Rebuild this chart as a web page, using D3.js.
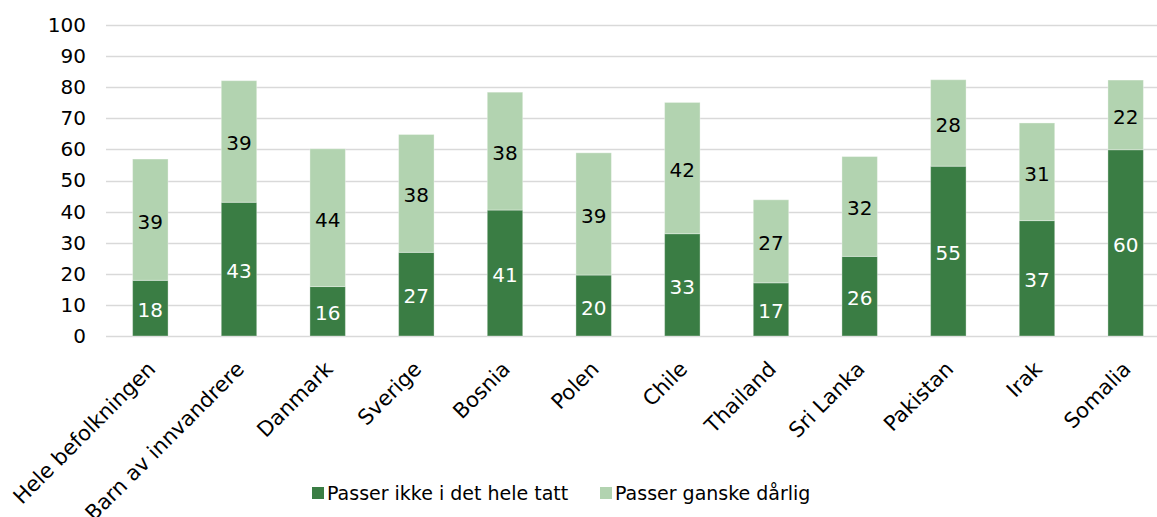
<!DOCTYPE html>
<html>
<head>
<meta charset="utf-8">
<script src="https://cdnjs.cloudflare.com/ajax/libs/d3/7.8.5/d3.min.js"></script>
<style>
  body { margin: 0; background: #fff; }
  text { font-family: "DejaVu Sans", Verdana, sans-serif; }
</style>
</head>
<body>
<div id="chart"></div>
<script>
var categories = ["Hele befolkningen", "Barn av innvandrere", "Danmark", "Sverige", "Bosnia", "Polen", "Chile", "Thailand", "Sri Lanka", "Pakistan", "Irak", "Somalia"];
// values, labels show them rounded
var ikke = [17.9, 43.0, 15.9, 26.9, 40.5, 19.6, 32.9, 17.1, 25.6, 54.6, 37.1, 59.9];
var darlig = [39.0, 39.1, 44.3, 37.9, 37.9, 39.3, 42.2, 26.7, 32.1, 27.8, 31.4, 22.4];
var yTicks = [0, 10, 20, 30, 40, 50, 60, 70, 80, 90, 100];
var seriesNames = ["Passer ikke i det hele tatt", "Passer ganske dårlig"];

var width = 1157, height = 517;
var colors = ["#3a7d44", "#b2d3b0"];

var svg = d3.select("#chart").append("svg")
    .attr("width", width)
    .attr("height", height);

var x = d3.scaleBand()
    .domain(categories)
    .range([106, 1170])
    .paddingInner(0.6)
    .paddingOuter(0.3);

var y = d3.scaleLinear()
    .domain([0, 100])
    .range([336, 25]);

// gridlines
svg.append("g").selectAll("line")
    .data(yTicks)
    .enter().append("line")
    .attr("x1", 106)
    .attr("x2", width)
    .attr("y1", function(d) { return Math.round(y(d)) + 0.5; })
    .attr("y2", function(d) { return Math.round(y(d)) + 0.5; })
    .style("stroke", "#d9d9d9")
    .style("stroke-width", 1.5);

// y axis labels
var yAxis = d3.axisLeft(y).tickValues(yTicks).tickSize(0).tickPadding(0);
var ya = svg.append("g")
    .attr("transform", "translate(86,0)")
    .call(yAxis);
ya.select(".domain").remove();
ya.selectAll("text")
    .style("font-size", "20px")
    .style("fill", "#000");

var data = categories.map(function(c, i) {
    return { cat: c, a: ikke[i], b: darlig[i] };
});

var groups = svg.append("g").selectAll("g")
    .data(data)
    .enter().append("g");

groups.append("rect")
    .attr("x", function(d) { return x(d.cat); })
    .attr("width", x.bandwidth())
    .attr("y", function(d) { return y(d.a); })
    .attr("height", function(d) { return y(0) - y(d.a); })
    .style("fill", colors[0])
    .style("stroke", "rgba(255,255,255,0.35)")
    .style("stroke-width", 1);

groups.append("rect")
    .attr("x", function(d) { return x(d.cat); })
    .attr("width", x.bandwidth())
    .attr("y", function(d) { return y(d.a + d.b); })
    .attr("height", function(d) { return y(d.a) - y(d.a + d.b); })
    .style("fill", colors[1])
    .style("stroke", "rgba(255,255,255,0.35)")
    .style("stroke-width", 1);

groups.append("text")
    .attr("x", function(d) { return x(d.cat) + x.bandwidth() / 2; })
    .attr("y", function(d) { return y(d.a / 2) + 2; })
    .attr("dy", "0.35em")
    .attr("text-anchor", "middle")
    .style("font-size", "20px")
    .style("fill", "#fff")
    .text(function(d) { return Math.round(d.a); });

groups.append("text")
    .attr("x", function(d) { return x(d.cat) + x.bandwidth() / 2; })
    .attr("y", function(d) { return y(d.a + d.b / 2) + 2; })
    .attr("dy", "0.35em")
    .attr("text-anchor", "middle")
    .style("font-size", "20px")
    .style("fill", "#000")
    .text(function(d) { return Math.round(d.b); });

// x labels, rotated
svg.append("g").selectAll("text")
    .data(categories)
    .enter().append("text")
    .attr("transform", function(d) {
        return "translate(" + (x(d) + x.bandwidth() / 2 - 4) + ",360) rotate(-45)";
    })
    .attr("text-anchor", "end")
    .attr("dy", "0.7em")
    .style("font-size", "21px")
    .style("fill", "#000")
    .text(function(d) { return d; });

// legend
var legendX = [312, 600];
var legend = svg.append("g").selectAll("g")
    .data(seriesNames)
    .enter().append("g")
    .attr("transform", function(d, i) { return "translate(" + legendX[i] + ",487)"; });

legend.append("rect")
    .attr("width", 12)
    .attr("height", 12)
    .style("fill", function(d, i) { return colors[i]; });

legend.append("text")
    .attr("x", 15)
    .attr("y", 6)
    .attr("dy", "0.35em")
    .style("font-size", "19px")
    .style("fill", "#000")
    .text(function(d) { return d; });
</script>
</body>
</html>
